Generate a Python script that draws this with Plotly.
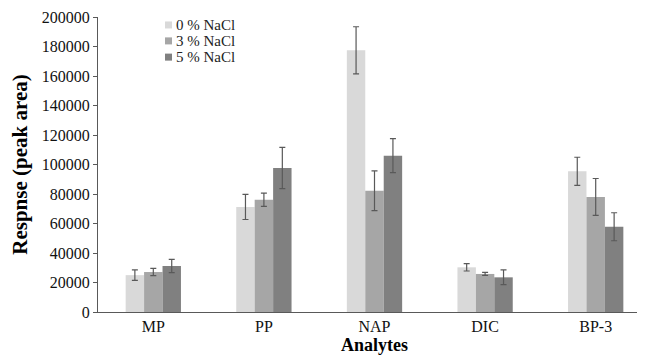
import plotly.graph_objects as go

categories = ["MP", "PP", "NAP", "DIC", "BP-3"]
series_names = ["0 % NaCl", "3 % NaCl", "5 % NaCl"]
vals_0 = [25000, 71200, 177400, 30300, 95400]
err_0 = [3500, 8500, 16000, 2500, 9500]
vals_3 = [27100, 76100, 82200, 25800, 78000]
err_3 = [2500, 4500, 13500, 1000, 12500]
vals_5 = [31200, 97600, 106000, 23500, 57800]
err_5 = [4500, 14000, 11500, 5000, 9500]
colors = ["#d9d9d9", "#a6a6a6", "#808080"]

font = "Liberation Serif, Times New Roman, serif"

fig = go.Figure()
for name, v, e, c in zip(series_names, [vals_0, vals_3, vals_5], [err_0, err_3, err_5], colors):
    fig.add_trace(go.Bar(
        x=categories, y=v, name=name, marker=dict(color=c, line=dict(width=0)),
        error_y=dict(type="data", array=e, color="#595959", thickness=1.2, width=3),
        showlegend=False,
    ))

# compact legend (rows ~16px apart, as in the reference)
legend_rows_y = [0.973, 0.919, 0.864]
for name, c, ly in zip(series_names, colors, legend_rows_y):
    fig.add_shape(type="rect", xref="paper", yref="paper",
                  x0=0.1212, x1=0.1338, y0=ly - 0.0119, y1=ly + 0.0119,
                  fillcolor=c, line=dict(width=0))
    fig.add_annotation(xref="paper", yref="paper", x=0.139, y=ly,
                       xanchor="left", yanchor="middle", showarrow=False,
                       borderpad=0, text=name,
                       font=dict(family=font, size=15, color="#222"))

fig.update_layout(
    width=645, height=360,
    margin=dict(l=90, r=2, t=9, b=56),
    paper_bgcolor="white", plot_bgcolor="white",
    barmode="group", bargap=0.5, bargroupgap=0,
    font=dict(family=font, size=16, color="#000"),
    xaxis=dict(showline=True, linecolor="#595959", linewidth=1, ticks="",
               tickfont=dict(family=font, size=16, color="#111"),
               title=dict(text="<b>Analytes</b>", font=dict(family=font, size=18), standoff=4)),
    yaxis=dict(range=[0, 200000], dtick=20000, showgrid=False, showline=True,
               linecolor="#595959", linewidth=1, ticks="outside", ticklen=4,
               tickcolor="#595959", tickformat="d", zeroline=False,
               tickfont=dict(family=font, size=16, color="#111"),
               title=dict(text="<b>Respnse (peak area)</b>", font=dict(family=font, size=21), standoff=12)),
)
fig.write_html("out.html")
